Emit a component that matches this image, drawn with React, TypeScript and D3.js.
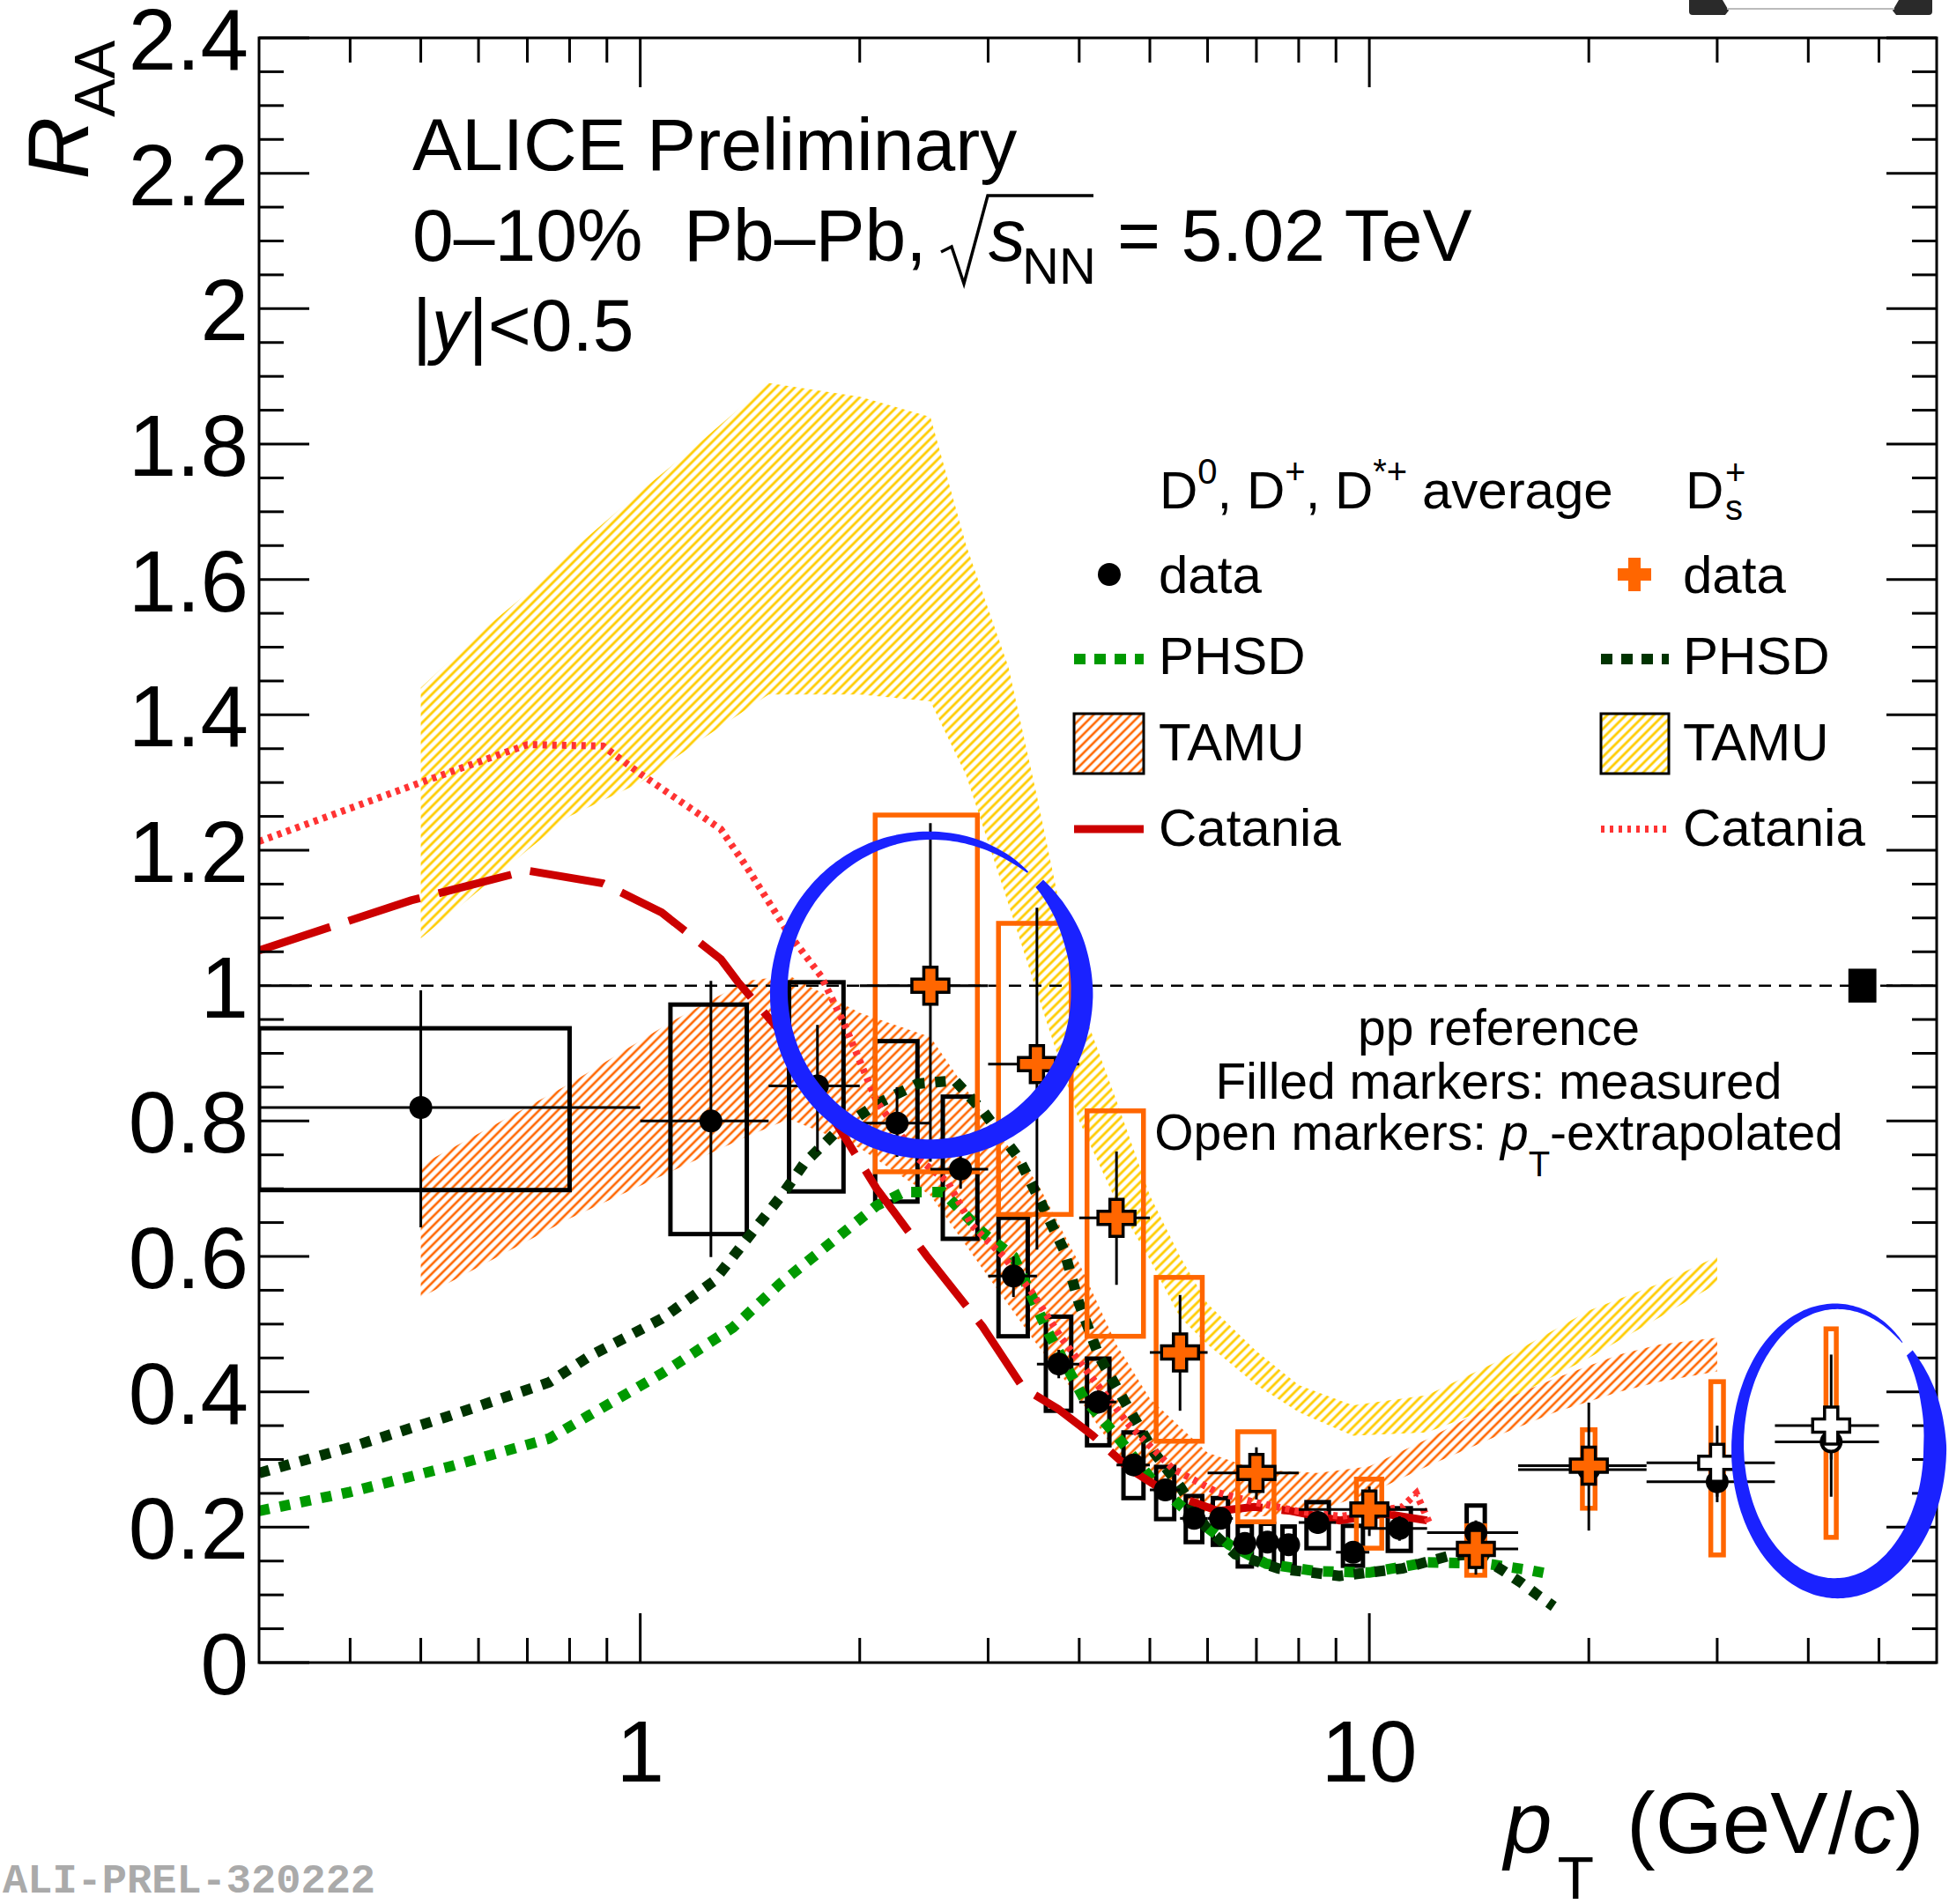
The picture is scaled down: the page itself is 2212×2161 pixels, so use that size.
import React from "react";
import * as d3 from "d3";

// ---------------- axes ----------------
const ptDomain = [0.3, 60];
const raaDomain = [0, 2.4];
const xMajorTicks = [1, 10];
const xMajorLabels = ["1", "10"];
const xMinorTicks = [0.4, 0.5, 0.6, 0.7, 0.8, 0.9, 2, 3, 4, 5, 6, 7, 8, 9, 20, 30, 40, 50];
const yMajorTicks = [0, 0.2, 0.4, 0.6, 0.8, 1, 1.2, 1.4, 1.6, 1.8, 2, 2.2, 2.4];
const yMajorLabels = ["0", "0.2", "0.4", "0.6", "0.8", "1", "1.2", "1.4", "1.6", "1.8", "2", "2.2", "2.4"];
const yMinorStep = 0.05;

// ---------------- D0, D+, D*+ average ----------------
const dBinLo = [0, 1, 1.5, 2, 2.5, 3, 3.5, 4, 4.5, 5, 5.5, 6, 6.5, 7, 7.5, 8, 9, 10, 12, 16, 24, 36];
const dBinHi = [1, 1.5, 2, 2.5, 3, 3.5, 4, 4.5, 5, 5.5, 6, 6.5, 7, 7.5, 8, 9, 10, 12, 16, 24, 36, 50];
const dPt = [0.5, 1.25, 1.75, 2.25, 2.75, 3.25, 3.75, 4.25, 4.75, 5.25, 5.75, 6.25, 6.75, 7.25, 7.75, 8.5, 9.5, 11, 14, 20, 30, 43];
const dRaa = [0.82, 0.8, 0.852, 0.797, 0.729, 0.571, 0.441, 0.385, 0.292, 0.255, 0.213, 0.213, 0.176, 0.178, 0.174, 0.207, 0.163, 0.198, 0.192, 0.285, 0.267, 0.326];
const dStatLo = [0.643, 0.599, 0.755, 0.747, 0.7, 0.54, 0.42, 0.368, 0.276, 0.24, 0.198, 0.198, 0.162, 0.163, 0.158, 0.19, 0.148, 0.18, 0.176, 0.265, 0.245, 0.3];
const dStatHi = [0.993, 1.007, 0.942, 0.85, 0.76, 0.6, 0.462, 0.402, 0.308, 0.27, 0.228, 0.228, 0.19, 0.193, 0.19, 0.224, 0.178, 0.216, 0.21, 0.305, 0.289, 0.352];
const dSysLo = [0.698, 0.633, 0.696, 0.681, 0.626, 0.482, 0.372, 0.321, 0.243, 0.212, 0.178, 0.174, 0.142, 0.148, 0.143, 0.169, 0.143, 0.165, 0.16, NaN, NaN, NaN];
const dSysHi = [0.937, 0.972, 1.005, 0.918, 0.836, 0.657, 0.511, 0.449, 0.34, 0.289, 0.246, 0.243, 0.202, 0.205, 0.201, 0.237, 0.202, 0.228, 0.232, NaN, NaN, NaN];
const dOpen = [false, false, false, false, false, false, false, false, false, false, false, false, false, false, false, false, false, false, false, false, false, true];

// ---------------- Ds+ ----------------
const sBinLo = [2, 3, 4, 5, 6, 8, 12, 16, 24, 36];
const sBinHi = [3, 4, 5, 6, 8, 12, 16, 24, 36, 50];
const sPt = [2.5, 3.5, 4.5, 5.5, 7, 10, 14, 20, 30, 43];
const sRaa = [1.0, 0.884, 0.657, 0.458, 0.28, 0.226, 0.168, 0.291, 0.295, 0.35];
const sStatLo = [0.74, 0.61, 0.558, 0.372, 0.241, 0.187, 0.13, 0.195, 0.237, 0.245];
const sStatHi = [1.24, 1.115, 0.755, 0.543, 0.318, 0.26, 0.2, 0.384, 0.35, 0.455];
const sSysLo = [0.725, 0.662, 0.482, 0.327, 0.208, 0.169, 0.129, 0.228, 0.159, 0.185];
const sSysHi = [1.252, 1.092, 0.815, 0.569, 0.341, 0.271, 0.202, 0.344, 0.415, 0.493];
const sOpen = [false, false, false, false, false, false, false, false, true, true];

// global normalisation uncertainty
const normPt = [45.4, 49.6];
const normUnc = 0.025;

// ---------------- models ----------------
// TAMU Ds (yellow band)
const tamuSPt = [0.5, 0.6, 0.7, 0.8, 1.0, 1.2, 1.5, 2.0, 2.5, 2.8, 3.2, 3.5, 4.0, 4.5, 5.0, 5.5, 6.0, 7.0, 8.0, 9.5, 12, 15, 20, 25, 30];
const tamuSHi = [1.44, 1.52, 1.58, 1.64, 1.73, 1.8, 1.89, 1.87, 1.84, 1.65, 1.47, 1.28, 0.98, 0.83, 0.69, 0.6, 0.53, 0.46, 0.41, 0.38, 0.395, 0.445, 0.52, 0.56, 0.6];
const tamuSLo = [1.07, 1.14, 1.2, 1.25, 1.3, 1.36, 1.43, 1.43, 1.42, 1.31, 1.12, 0.99, 0.8, 0.68, 0.595, 0.51, 0.47, 0.41, 0.37, 0.335, 0.34, 0.38, 0.45, 0.51, 0.56];
// TAMU D average (orange band)
const tamuDPt = [0.5, 0.8, 1.1, 1.4, 1.6, 2.0, 2.5, 3.0, 3.5, 4.0, 4.5, 5.0, 6.0, 7.0, 8.5, 10, 12, 15, 18, 22, 25, 30];
const tamuDHi = [0.735, 0.855, 0.946, 1.007, 1.015, 0.96, 0.924, 0.8, 0.71, 0.59, 0.47, 0.39, 0.31, 0.285, 0.28, 0.29, 0.33, 0.385, 0.42, 0.455, 0.47, 0.48];
const tamuDLo = [0.539, 0.656, 0.725, 0.777, 0.803, 0.76, 0.69, 0.57, 0.47, 0.39, 0.31, 0.26, 0.22, 0.215, 0.225, 0.25, 0.29, 0.335, 0.37, 0.4, 0.415, 0.43];
// PHSD D average (light green)
const phsdDPt = [0.3, 0.4, 0.55, 0.75, 0.85, 1.07, 1.34, 1.56, 1.81, 2.11, 2.3, 2.6, 2.95, 3.25, 3.63, 4.06, 4.5, 5.07, 5.73, 6.43, 7.22, 8.45, 10, 12, 14.5, 16.5, 17.8];
const phsdDRaa = [0.224, 0.252, 0.29, 0.331, 0.365, 0.427, 0.495, 0.561, 0.617, 0.675, 0.695, 0.695, 0.635, 0.6, 0.487, 0.39, 0.335, 0.266, 0.216, 0.174, 0.146, 0.135, 0.133, 0.148, 0.146, 0.137, 0.13];
// PHSD Ds (dark green)
const phsdSPt = [0.3, 0.4, 0.55, 0.75, 0.85, 1.07, 1.26, 1.43, 1.56, 1.68, 1.87, 2.11, 2.4, 2.7, 2.95, 3.3, 3.52, 3.81, 4.0, 4.26, 4.61, 5.07, 5.5, 5.95, 6.55, 7.5, 9.1, 11.1, 12.9, 14, 15.3, 16.2, 17.1, 17.9];
const phsdSRaa = [0.28, 0.318, 0.365, 0.414, 0.452, 0.508, 0.563, 0.638, 0.689, 0.738, 0.787, 0.825, 0.855, 0.86, 0.815, 0.746, 0.686, 0.61, 0.53, 0.452, 0.387, 0.31, 0.26, 0.202, 0.16, 0.139, 0.128, 0.139, 0.158, 0.16, 0.135, 0.117, 0.098, 0.083];
// Catania D average (dark red, long dash)
const catDPt = [0.3, 0.485, 0.7, 0.889, 1.07, 1.29, 1.36, 1.56, 1.8, 2.11, 2.47, 2.95, 3.35, 3.74, 4.17, 4.69, 5.28, 6.2, 6.95, 7.8, 9.1, 10.5, 12];
const catDRaa = [1.052, 1.126, 1.17, 1.151, 1.108, 1.039, 1.006, 0.931, 0.82, 0.7, 0.601, 0.496, 0.406, 0.375, 0.336, 0.286, 0.251, 0.224, 0.23, 0.224, 0.21, 0.22, 0.21];
// Catania Ds (light red, dotted)
const catSPt = [0.3, 0.5, 0.7, 0.889, 1.0, 1.29, 1.4, 1.6, 1.77, 1.9, 2.11, 2.4, 2.64, 2.85, 3.15, 3.44, 3.79, 4.17, 4.69, 5.38, 6.2, 6.95, 7.95, 9.14, 11.1, 11.6, 12.1];
const catSRaa = [1.213, 1.3, 1.356, 1.354, 1.313, 1.231, 1.175, 1.076, 1.014, 0.946, 0.829, 0.745, 0.71, 0.646, 0.6, 0.548, 0.478, 0.42, 0.35, 0.286, 0.251, 0.237, 0.224, 0.216, 0.23, 0.25, 0.205];

// annotation circles (centre in data coordinates)
const circPt = [2.5, 43.7];
const circRaa = [0.99, 0.318];

// ---------------- colours ----------------
const C_ORANGE = "#ff6600";
const C_YELLOW = "#ffcc00";
const C_LGREEN = "#009900";
const C_DGREEN = "#003300";
const C_DRED = "#cc0000";
const C_LRED = "#ff3333";
const C_BLUE = "#1a22ff";
const FONT = "'Liberation Sans', Arial, Helvetica, sans-serif";

const L = 294, R = 2198, T = 43, B = 1887;

function crossPath(cx: number, cy: number, s = 21, a = 7.5) {
  return `M${cx - a},${cy - s}H${cx + a}V${cy - a}H${cx + s}V${cy + a}H${cx + a}V${cy + s}H${cx - a}V${cy + a}H${cx - s}V${cy - a}H${cx - a}Z`;
}

function brushEllipse(cx: number, cy: number, rx: number, ry: number, t0: number, t1: number, prof: number[][]) {
  const th = d3.scaleLinear().domain(prof.map((p) => p[0])).range(prof.map((p) => p[1])).clamp(true);
  const n = 240;
  const outer: number[][] = [];
  const inner: number[][] = [];
  for (let i = 0; i <= n; i++) {
    const t = t0 + ((t1 - t0) * i) / n;
    const w = th(t) as number;
    const r = (t * Math.PI) / 180;
    outer.push([cx + (rx + w / 2) * Math.cos(r), cy + (ry + w / 2) * Math.sin(r)]);
    inner.push([cx + (rx - w / 2) * Math.cos(r), cy + (ry - w / 2) * Math.sin(r)]);
  }
  const pts = outer.concat(inner.reverse());
  return "M" + pts.map((p) => p[0].toFixed(1) + "," + p[1].toFixed(1)).join("L") + "Z";
}

export default function App() {
  const x = d3.scaleLog().domain(ptDomain).range([L, R]);
  const y = d3.scaleLinear().domain(raaDomain).range([B, T]);
  const xc = (v: number) => x(Math.max(v, ptDomain[0]));

  const area = (pt: number[], lo: number[], hi: number[]) =>
    d3
      .area<number>()
      .x((_, i) => x(pt[i]))
      .y0((_, i) => y(lo[i]))
      .y1((_, i) => y(hi[i]))(pt) || "";
  const line = (pt: number[], v: number[]) =>
    d3
      .line<number>()
      .x((_, i) => x(pt[i]))
      .y((_, i) => y(v[i]))(pt) || "";

  const yMinor = d3.range(0, raaDomain[1] + 1e-6, yMinorStep);
  const dHalf = (i: number) => Math.min(0.3 * (dBinHi[i] - dBinLo[i]), 0.4);
  const sHalf = (i: number) => Math.max(0.4, 0.05 * (sBinHi[i] - sBinLo[i]));

  const c1 = brushEllipse(x(circPt[0]), y(circRaa[0]), 172, 178, -44, 310, [
    [-44, 12], [-20, 22], [0, 25], [45, 25], [90, 22], [135, 22], [180, 20], [225, 15], [260, 10], [290, 8], [304, 5], [310, 2],
  ]);
  const c2 = brushEllipse(x(circPt[1]), y(circRaa[1]), 112, 160, -42, 312, [
    [-42, 9], [-20, 20], [0, 26], [45, 26], [90, 23], [135, 18], [180, 14], [225, 11], [260, 7], [290, 5], [306, 3], [312, 1],
  ]);

  return (
    <svg width={2212} height={2161} style={{ position: "absolute", left: 0, top: 0, background: "#fff" }} fontFamily={FONT}>
      <defs>
        <pattern id="hatchY" patternUnits="userSpaceOnUse" width="7.5" height="7.5" patternTransform="rotate(45)">
          <line x1="3.75" y1="0" x2="3.75" y2="7.5" stroke={C_YELLOW} strokeWidth="2.8" />
        </pattern>
        <pattern id="hatchO" patternUnits="userSpaceOnUse" width="7.5" height="7.5" patternTransform="rotate(45)">
          <line x1="3.75" y1="0" x2="3.75" y2="7.5" stroke={C_ORANGE} strokeWidth="2.6" />
        </pattern>
        <clipPath id="plotClip">
          <rect x={L} y={T} width={R - L} height={B - T} />
        </clipPath>
      </defs>
      <rect x={0} y={0} width={2212} height={2161} fill="#fff" />

      {/* top-right cropped artefact */}
      <g fill="#2a2a2a">
        <path d="M1917,0H1955L1962,12L1958,17H1921Q1917,17 1917,13Z" />
        <path d="M2193,0H2155L2148,12L2152,17H2189Q2193,17 2193,13Z" />
        <line x1={1960} y1={10} x2={2150} y2={10} stroke="#bbb" strokeWidth={2} />
      </g>

      <g clipPath="url(#plotClip)">
        {/* TAMU bands */}
        <path d={area(tamuSPt, tamuSLo, tamuSHi)} fill="url(#hatchY)" />
        <path d={area(tamuDPt, tamuDLo, tamuDHi)} fill="url(#hatchO)" />

        {/* reference line */}
        <line x1={L} x2={R} y1={y(1)} y2={y(1)} stroke="#000" strokeWidth={2.5} strokeDasharray="14 9" />

        {/* D-average sys boxes */}
        {dPt.map((p, i) =>
          isNaN(dSysLo[i]) ? null : (
            <rect
              key={"ds" + i}
              x={xc(p - dHalf(i))}
              y={y(dSysHi[i])}
              width={x(p + dHalf(i)) - xc(p - dHalf(i))}
              height={y(dSysLo[i]) - y(dSysHi[i])}
              fill="none"
              stroke="#000"
              strokeWidth={5}
            />
          )
        )}

        {/* models */}
        <path d={line(phsdDPt, phsdDRaa)} fill="none" stroke={C_LGREEN} strokeWidth={12} strokeDasharray="12 12" />
        <path d={line(phsdSPt, phsdSRaa)} fill="none" stroke={C_DGREEN} strokeWidth={12} strokeDasharray="12 12" />
        <path d={line(catDPt, catDRaa)} fill="none" stroke={C_DRED} strokeWidth={9} strokeDasharray="85 22" />
        <path d={line(catSPt, catSRaa)} fill="none" stroke={C_LRED} strokeWidth={8} strokeDasharray="5 6" />

        {/* Ds sys boxes */}
        {sPt.map((p, i) => (
          <rect
            key={"ss" + i}
            x={x(p - sHalf(i))}
            y={y(sSysHi[i])}
            width={x(p + sHalf(i)) - x(p - sHalf(i))}
            height={y(sSysLo[i]) - y(sSysHi[i])}
            fill="none"
            stroke={C_ORANGE}
            strokeWidth={5.5}
          />
        ))}

        {/* D-average stat bars */}
        {dPt.map((p, i) => (
          <g key={"de" + i} stroke="#000" strokeWidth={3}>
            <line x1={xc(dBinLo[i])} x2={x(dBinHi[i])} y1={y(dRaa[i])} y2={y(dRaa[i])} />
            <line x1={x(p)} x2={x(p)} y1={y(dStatLo[i])} y2={y(dStatHi[i])} />
          </g>
        ))}
        {/* Ds stat bars */}
        {sPt.map((p, i) => (
          <g key={"se" + i} stroke="#000" strokeWidth={3}>
            <line x1={x(sBinLo[i])} x2={x(sBinHi[i])} y1={y(sRaa[i])} y2={y(sRaa[i])} />
            <line x1={x(p)} x2={x(p)} y1={y(sStatLo[i])} y2={y(sStatHi[i])} />
          </g>
        ))}
        {/* D-average markers */}
        {dPt.map((p, i) => (
          <circle
            key={"dm" + i}
            cx={x(p)}
            cy={y(dRaa[i])}
            r={dOpen[i] ? 11 : 13}
            fill={dOpen[i] ? "#fff" : "#000"}
            stroke="#000"
            strokeWidth={dOpen[i] ? 4 : 0}
          />
        ))}
        {/* Ds markers */}
        {sPt.map((p, i) => (
          <path key={"sm" + i} d={crossPath(x(p), y(sRaa[i]))} fill={sOpen[i] ? "#fff" : C_ORANGE} stroke="#000" strokeWidth={3.5} />
        ))}

        {/* normalisation uncertainty */}
        <rect x={x(normPt[0])} width={x(normPt[1]) - x(normPt[0])} y={y(1 + normUnc)} height={y(1 - normUnc) - y(1 + normUnc)} fill="#000" />
      </g>

      {/* frame & ticks */}
      <rect x={L} y={T} width={R - L} height={B - T} fill="none" stroke="#000" strokeWidth={3} />
      <g stroke="#000" strokeWidth={3}>
        {xMajorTicks.map((t) => (
          <g key={"xM" + t}>
            <line x1={x(t)} x2={x(t)} y1={B} y2={B - 56} />
            <line x1={x(t)} x2={x(t)} y1={T} y2={T + 56} />
          </g>
        ))}
        {xMinorTicks.map((t) => (
          <g key={"xm" + t}>
            <line x1={x(t)} x2={x(t)} y1={B} y2={B - 28} />
            <line x1={x(t)} x2={x(t)} y1={T} y2={T + 28} />
          </g>
        ))}
        {yMinor.map((t, i) => {
          const major = i % 4 === 0;
          const len = major ? 57 : 28;
          return (
            <g key={"ym" + i}>
              <line x1={L} x2={L + len} y1={y(t)} y2={y(t)} />
              <line x1={R} x2={R - len} y1={y(t)} y2={y(t)} />
            </g>
          );
        })}
      </g>
      {/* tick labels */}
      <g fontSize={98} fill="#000">
        {yMajorTicks.map((t, i) => (
          <text key={"yl" + i} x={282} y={y(t) + 36} textAnchor="end">
            {yMajorLabels[i]}
          </text>
        ))}
        {xMajorTicks.map((t, i) => (
          <text key={"xl" + i} x={x(t)} y={2022} textAnchor="middle">
            {xMajorLabels[i]}
          </text>
        ))}
      </g>
      {/* axis titles */}
      <text fontSize={98} y={2103} x={1707}>
        <tspan fontStyle="italic">p</tspan>
        <tspan fontSize={68} dy={52} dx={6}>T</tspan>
        <tspan dy={-52} x={1846}>(GeV/</tspan>
        <tspan fontStyle="italic">c</tspan>
        <tspan>)</tspan>
      </text>
      <text fontSize={98} transform="translate(100,46) rotate(-90)" textAnchor="end">
        <tspan fontStyle="italic">R</tspan>
        <tspan fontSize={65} dy={30}>AA</tspan>
      </text>

      {/* header */}
      <g fontSize={84} fill="#000">
        <text x={468} y={193}>ALICE Preliminary</text>
        <text x={468} y={296}>0–10%</text>
        <text x={776} y={296}>Pb–Pb,</text>
        <path d="M1068,286 L1080,280 L1094,322 L1121,222 L1241,222" fill="none" stroke="#000" strokeWidth={3.5} />
        <text x={1122} y={296} fontStyle="italic">s</text>
        <text x={1160} y={322} fontSize={58}>NN</text>
        <text x={1268} y={296}>= 5.02 TeV</text>
        <text x={468} y={398}>
          |<tspan fontStyle="italic">y</tspan>|&lt;0.5
        </text>
      </g>

      {/* legend */}
      <g fontSize={60} fill="#000">
        <text x={1316} y={577}>
          D<tspan fontSize={40} dy={-28}>0</tspan>
          <tspan dy={28}>, D</tspan>
          <tspan fontSize={40} dy={-28}>+</tspan>
          <tspan dy={28}>, D</tspan>
          <tspan fontSize={40} dy={-28}>*+</tspan>
          <tspan dy={28}> average</tspan>
        </text>
        <text x={1913} y={577}>D</text>
        <text x={1958} y={550} fontSize={40}>+</text>
        <text x={1958} y={590} fontSize={40}>s</text>

        <circle cx={1259} cy={652} r={13} fill="#000" />
        <text x={1315} y={673}>data</text>
        <path d={crossPath(1855, 652, 19, 7)} fill={C_ORANGE} />
        <text x={1910} y={673}>data</text>

        <line x1={1219} x2={1298} y1={748} y2={748} stroke={C_LGREEN} strokeWidth={12} strokeDasharray="13 10" />
        <text x={1315} y={765}>PHSD</text>
        <line x1={1817} x2={1894} y1={748} y2={748} stroke={C_DGREEN} strokeWidth={12} strokeDasharray="13 10" />
        <text x={1910} y={765}>PHSD</text>

        <rect x={1219} y={810} width={79} height={68} fill="url(#hatchO)" stroke="#000" strokeWidth={3} />
        <text x={1315} y={863}>TAMU</text>
        <rect x={1817} y={810} width={77} height={68} fill="url(#hatchY)" stroke="#000" strokeWidth={3} />
        <text x={1910} y={863}>TAMU</text>

        <line x1={1219} x2={1298} y1={941} y2={941} stroke={C_DRED} strokeWidth={9} />
        <text x={1315} y={960}>Catania</text>
        <line x1={1817} x2={1894} y1={941} y2={941} stroke={C_LRED} strokeWidth={8} strokeDasharray="4 6" />
        <text x={1910} y={960}>Catania</text>
      </g>

      {/* pp reference note */}
      <g fontSize={57} fill="#000" textAnchor="middle">
        <text x={1701} y={1186}>pp reference</text>
        <text x={1701} y={1247}>Filled markers: measured</text>
        <text x={1701} y={1305}>
          Open markers: <tspan fontStyle="italic">p</tspan>
          <tspan fontSize={40} dy={30}>T</tspan>
          <tspan dy={-30}>-extrapolated</tspan>
        </text>
      </g>

      {/* hand-drawn annotation circles */}
      <path d={c1} fill={C_BLUE} />
      <path d={c2} fill={C_BLUE} />

      {/* watermark */}
      <text x={3} y={2148} fontFamily="'Liberation Mono', 'Courier New', monospace" fontWeight="bold" fontSize={47} fill="#aaaaaa">
        ALI-PREL-320222
      </text>
    </svg>
  );
}
